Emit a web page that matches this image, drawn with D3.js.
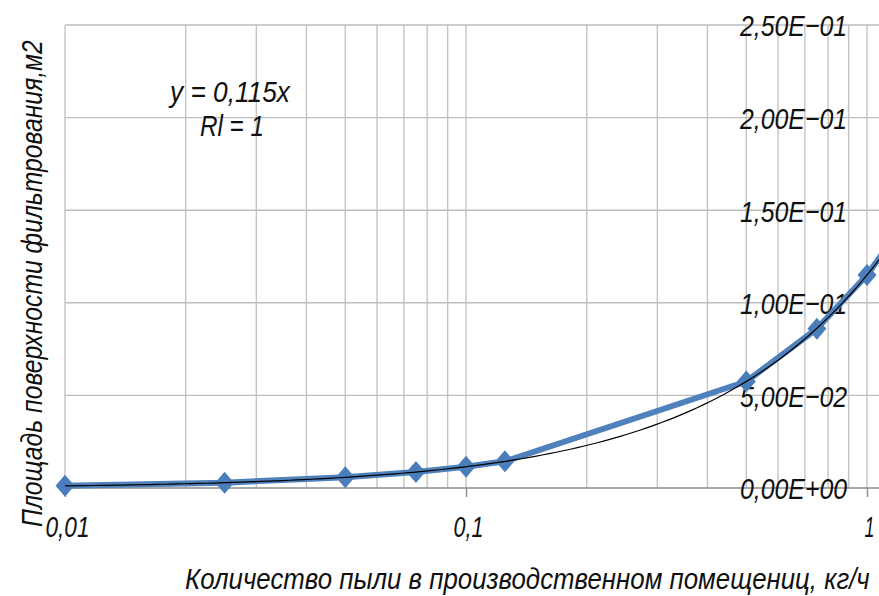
<!DOCTYPE html>
<html>
<head>
<meta charset="utf-8">
<script src="https://cdn.jsdelivr.net/npm/d3@7"></script>
<style>
  body { margin: 0; background: #fff; }
  text { font-family: "Liberation Sans", Arimo, "DejaVu Sans", sans-serif; font-style: italic; fill: #111; }
</style>
</head>
<body>
<script>
// dust amount, kg/h  and filter area, m2
var dust = [0.01, 0.025, 0.05, 0.075, 0.1, 0.125, 0.5, 0.75, 1, 1.25]
var area = [0.00115, 0.0029, 0.0058, 0.0086, 0.0115, 0.0144, 0.0575, 0.086, 0.115, 0.144]
var yTicks = [0, 0.05, 0.1, 0.15, 0.2, 0.25]
var xTicks = [0.01, 0.1, 1]
var xTickLabels = ['0,01', '0,1', '1']
var trendK = 0.115

var fullWidth = 879
var fullHeight = 596

var svg = d3
  .select('body')
  .append('svg')
  .attr('width', fullWidth)
  .attr('height', fullHeight)

var x = d3.scaleLog().domain([0.01, 1]).range([65, 867])
var y = d3.scaleLinear().domain([0, 0.25]).range([488, 25])
var xMax = x.invert(fullWidth)

// squeeze a text horizontally to a given width (narrow drafting-style font)
function squeeze(sel, width, pre) {
  sel.each(function (d, i) {
    var w = typeof width === 'function' ? width(d, i) : width
    var len = this.getComputedTextLength()
    d3.select(this).attr('transform', (pre || '') + ' scale(' + w / len + ',1)')
  })
}

// minor log grid
var minor = []
;[0.01, 0.1, 1].forEach((d) => {
  for (var i = 1; i < 10; i++) if (d * i <= xMax) minor.push(d * i)
})

var grid = svg.append('g')
grid
  .selectAll('line.v')
  .data(minor)
  .join('line')
  .attr('x1', (d) => x(d))
  .attr('x2', (d) => x(d))
  .attr('y1', y(0.25))
  .attr('y2', y(0))
  .attr('stroke', '#c4c4c4')
  .attr('stroke-width', 1.4)

grid
  .selectAll('line.h')
  .data(yTicks.slice(1))
  .join('line')
  .attr('x1', x(0.01))
  .attr('x2', fullWidth)
  .attr('y1', (d) => y(d))
  .attr('y2', (d) => y(d))
  .attr('stroke', '#bdbdbd')
  .attr('stroke-width', 1.4)

// x axis
var xAxis = d3
  .axisBottom(x)
  .tickValues(xTicks)
  .tickSize(9)
  .tickFormat((d, i) => xTickLabels[i])
var gx = svg
  .append('g')
  .attr('transform', 'translate(0,' + y(0) + ')')
  .call(xAxis)
gx.select('.domain').remove()
gx.append('line')
  .attr('x1', x(0.01))
  .attr('x2', fullWidth)
  .attr('stroke', '#8c8c8c')
  .attr('stroke-width', 1.4)
gx.selectAll('.tick line').attr('stroke', '#8c8c8c').attr('stroke-width', 1.4)
gx.selectAll('.tick text')
  .attr('y', 0)
  .attr('dy', 0)
  .attr('x', 0)
  .style('font-size', '30px')
  .style('fill', '#111')
  .call(squeeze, (d, i) => [44, 30, 10][i], 'translate(2,49)')

// y axis labels (placed inside, at right)
var fmt = (v) => {
  if (v === 0) return '0,00E+00'
  var e = Math.floor(Math.log10(v) + 1e-9)
  var m = v / Math.pow(10, e)
  var es = (e < 0 ? '−' : '+') + String(Math.abs(e)).padStart(2, '0')
  return m.toFixed(2).replace('.', ',') + 'E' + es
}
var yAxis = d3.axisRight(y).tickValues(yTicks).tickSize(0).tickFormat(fmt)
var gy = svg
  .append('g')
  .attr('transform', 'translate(847,0)')
  .call(yAxis)
gy.select('.domain').remove()
gy.selectAll('.tick text')
  .attr('x', 0)
  .attr('text-anchor', 'end')
  .attr('dy', '0.36em')
  .style('font-size', '30px')
  .style('fill', '#111')
  .call(squeeze, 107)

// trend line y = 0.115x
var trend = d3.range(0, 121).map((i) => {
  var d = Math.pow(10, -2 + i * 0.0175)
  return [d, trendK * d]
})

var line = d3
  .line()
  .x((d) => x(d[0]))
  .y((d) => y(d[1]))

svg
  .append('path')
  .datum(dust.map((d, i) => [d, area[i]]))
  .attr('d', line)
  .attr('fill', 'none')
  .attr('stroke', '#4f81bd')
  .attr('stroke-width', 6)
  .attr('stroke-linejoin', 'round')

svg
  .append('g')
  .selectAll('path')
  .data(dust.map((d, i) => [d, area[i]]))
  .join('path')
  .attr('d', 'M0,-11L9.5,0L0,11L-9.5,0Z')
  .attr('transform', (d) => 'translate(' + x(d[0]) + ',' + y(d[1]) + ')')
  .attr('fill', '#4a7ebb')

svg
  .append('path')
  .datum(trend)
  .attr('d', line)
  .attr('fill', 'none')
  .attr('stroke', '#000')
  .attr('stroke-width', 1.2)

// equation
svg
  .append('text')
  .style('font-size', '30px')
  .text('y = 0,115x')
  .call(squeeze, 120, 'translate(170,102)')
svg
  .append('text')
  .style('font-size', '30px')
  .text('Rl = 1')
  .call(squeeze, 64, 'translate(200,136)')

// axis titles
svg
  .append('text')
  .style('font-size', '29px')
  .text('Количество пыли в производственном помещениц, кг/ч')
  .call(squeeze, 685, 'translate(185,589)')

svg
  .append('text')
  .style('font-size', '29px')
  .text('Площадь поверхности фильтрования,м2')
  .call(squeeze, 487, 'translate(42,527) rotate(-90)')
</script>
</body>
</html>
